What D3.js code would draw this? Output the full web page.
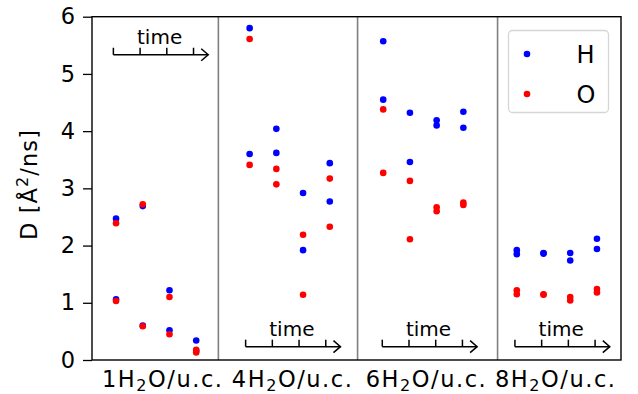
<!DOCTYPE html>
<html>
<head>
<meta charset="utf-8">
<script src="https://cdn.jsdelivr.net/npm/d3@7"></script>
<style>
  body { margin: 0; background: #fff; }
  text { font-family: "DejaVu Sans", sans-serif; fill: #000; }
</style>
</head>
<body>
<script>
// ---------- data ----------
const groups = ["1", "4", "6", "8"];             // H2O per unit cell
const timeIndex = [0, 1, 2, 3];                   // time points inside each group
const groupOffset = [0, 5, 10, 15];               // x offset of each group
const H1 = [2.47, 2.69, 1.22, 0.34, 5.80, 4.04, 2.92, 3.44, 5.57, 4.32, 4.19, 4.34, 1.92, 1.87, 1.87, 2.12];
const H2 = [1.06, 0.60, 0.52, 0.16, 3.60, 3.62, 1.92, 2.77, 4.55, 3.46, 4.10, 4.06, 1.85, 1.86, 1.74, 1.94];
const O1 = [2.39, 2.72, 1.10, 0.18, 5.61, 3.34, 2.19, 3.17, 4.38, 3.13, 2.67, 2.75, 1.22, 1.15, 1.10, 1.24];
const O2 = [1.03, 0.59, 0.45, 0.13, 3.41, 3.07, 1.14, 2.33, 3.27, 2.11, 2.60, 2.71, 1.15, 1.14, 1.04, 1.18];
const yTicks = [0, 1, 2, 3, 4, 5, 6];
const separators = [3.83, 9.04, 14.28];
const labelPos = [1.72, 6.58, 11.59, 16.43];
const arrowOff = [-0.10, -0.15, -0.035, -0.07];
const arrowY = [5.335, 0.233, 0.233, 0.233];

// ---------- layout ----------
const W = 638, H = 394;
const m = {left: 92, right: 17, top: 16.7, bottom: 34};
const svg = d3.select("body").append("svg").attr("width", W).attr("height", H);

const x = d3.scaleLinear().domain([-0.9, 18.9]).range([m.left, W - m.right]);
const y = d3.scaleLinear().domain([0, 6]).range([H - m.bottom, m.top]);

const xs = [];
groupOffset.forEach(g => timeIndex.forEach(t => xs.push(g + t)));

// separators
svg.selectAll("line.sep").data(separators).join("line")
  .attr("x1", d => x(d)).attr("x2", d => x(d))
  .attr("y1", y(6)).attr("y2", y(0))
  .attr("stroke", "#808080").attr("stroke-width", 1.6);

// y axis
const yAxis = svg.append("g").attr("transform", `translate(${m.left},0)`)
  .call(d3.axisLeft(y).tickValues(yTicks).tickSize(9).tickPadding(8).tickFormat(d3.format("d")));
yAxis.select(".domain").remove();
yAxis.selectAll(".tick line").attr("stroke", "#000").attr("stroke-width", 1.3);
yAxis.selectAll(".tick text").style("font-size", "22.5px").style("font-family", "DejaVu Sans");

// frame
svg.append("rect").attr("x", x(-0.9)).attr("y", y(6))
  .attr("width", x(18.9) - x(-0.9)).attr("height", y(0) - y(6))
  .attr("fill", "none").attr("stroke", "#000").attr("stroke-width", 1.4);

// points
function dots(vals, color) {
  svg.append("g").selectAll("circle").data(vals).join("circle")
    .attr("cx", (d, i) => x(xs[i])).attr("cy", d => y(d))
    .attr("r", 3.3).attr("fill", color);
}
dots(H1, "#0000ff"); dots(H2, "#0000ff");
dots(O1, "#ff0000"); dots(O2, "#ff0000");

// x labels
groups.forEach((g, k) => {
  const t = svg.append("text")
    .attr("x", x(labelPos[k])).attr("y", 387)
    .attr("text-anchor", "middle").style("font-size", "22.5px")
    .attr("textLength", 120).attr("lengthAdjust", "spacing");
  t.append("tspan").text(g + "H");
  t.append("tspan").text("2").style("font-size", "16px").attr("dy", 4);
  t.append("tspan").text("O/u.c.").attr("dy", -4);
});

// y label
const yl = svg.append("text")
  .attr("transform", `translate(37,${185}) rotate(-90)`)
  .attr("text-anchor", "middle").style("font-size", "22.5px")
  .attr("textLength", 110).attr("lengthAdjust", "spacing");
yl.append("tspan").text("D [Å");
yl.append("tspan").text("2").style("font-size", "16px").attr("dy", -9);
yl.append("tspan").text("/ns]").attr("dy", 9);

// time arrows
groupOffset.forEach((g, k) => {
  const ay = y(arrowY[k]);
  const tx = timeIndex.map(t => x(g + t + arrowOff[k]));
  const xEnd = x(g + 3 + arrowOff[k] + 0.55);
  const ga = svg.append("g").attr("stroke", "#000").attr("stroke-width", 1.5).attr("fill", "none");
  ga.append("line").attr("x1", tx[0]).attr("x2", xEnd).attr("y1", ay).attr("y2", ay);
  tx.forEach(v => ga.append("line").attr("x1", v).attr("x2", v).attr("y1", ay).attr("y2", ay - 7));
  ga.append("path").attr("d", `M${xEnd - 7},${ay - 6}L${xEnd},${ay}L${xEnd - 7},${ay + 6}`);
  svg.append("text").attr("x", x(g + arrowOff[k] + 1.73)).attr("y", ay - 11)
    .attr("text-anchor", "middle").style("font-size", "20px").text("time");
});

// legend
const lg = svg.append("g");
lg.append("rect").attr("x", 508.5).attr("y", 30.5).attr("width", 100).attr("height", 82)
  .attr("rx", 4).attr("fill", "#fff").attr("fill-opacity", 0.8)
  .attr("stroke", "#d6d6d6").attr("stroke-width", 1.3);
[["H", "#0000ff", 54], ["O", "#ff0000", 94]].forEach(([lab, c, cy]) => {
  lg.append("circle").attr("cx", 527).attr("cy", cy).attr("r", 3.3).attr("fill", c);
  lg.append("text").attr("x", 576.5).attr("y", cy + 8.8).style("font-size", "24px").text(lab);
});
</script>
</body>
</html>
